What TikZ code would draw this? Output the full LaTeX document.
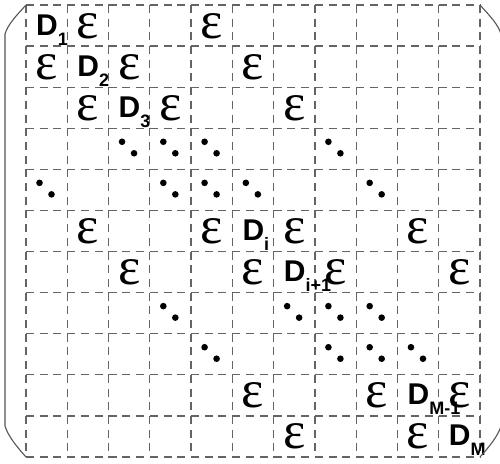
\documentclass[tikz,border=0pt]{standalone}
\usepackage{fontspec}
\newfontfamily\dfont{Liberation Sans}
\newfontfamily\efont{Liberation Serif}
\definecolor{gridgray}{RGB}{100,100,100}
\definecolor{brgray}{RGB}{85,85,85}
\newcommand\cellW{41.2727}
\newcommand\cellH{41.0909}
\newcommand\subl[1]{\raisebox{-10pt}{\fontsize{18}{18}\selectfont #1}}
\begin{document}
\begin{tikzpicture}[x=1pt,y=-1pt,
  gridseg/.style={draw=gridgray, line width=1.2pt, dash pattern=on 8pt off 5.7pt},
  epsnode/.style={anchor=base, inner sep=0pt, text height=24pt, text depth=0pt, font=\efont\fontsize{53}{53}\selectfont},
  dnode/.style={anchor=base west, inner sep=0pt, font=\dfont\bfseries\fontsize{30}{30}\selectfont},
  dotnode/.style={circle, fill=black, draw=none, inner sep=0pt, minimum size=6.6pt},
  bracket/.style={draw=brgray, line width=1.1pt}]
\useasboundingbox (0,0) rectangle (500,463);
% grid: each cell edge drawn once, dashes starting at each crossing
\foreach \r in {0,...,11}{
  \foreach \c in {0,...,10}{
    \draw[gridseg] ({26+\c*\cellW},{5+\r*\cellH}) -- ++(\cellW,0);
  }
}
\foreach \c in {0,...,11}{
  \foreach \r in {0,...,10}{
    \draw[gridseg] ({26+\c*\cellW},{5+\r*\cellH}) -- ++(0,\cellH);
  }
}
% epsilons
\foreach \r/\c in {0/1,0/4,1/0,1/2,1/5,2/1,2/3,2/6,5/1,5/4,5/6,5/9,6/2,6/5,6/7,6/10,9/5,9/8,9/10,10/6,10/9}{
  \node[epsnode] (e-\r-\c) at ({26+(\c+0.5)*\cellW},{5+\r*\cellH+33}) {ε};
}
% diagonal D entries
\foreach \r/\s in {0/1,1/2,2/3,5/i,6/i+1,9/M-1,10/M}{
  \node[dnode] (d-\r) at ({26+\r*\cellW+10},{5+\r*\cellH+30}) {D\subl{\s}};
}
% dot pairs
\foreach \r/\c in {3/2,3/3,3/4,3/7,4/0,4/3,4/4,4/5,4/8,7/3,7/6,7/7,7/8,8/4,8/7,8/8,8/9}{
  \node[dotnode] (p-\r-\c-a) at ({26+\c*\cellW+13.5},{5+\r*\cellH+13.5}) {};
  \node[dotnode] (p-\r-\c-b) at ({26+\c*\cellW+25.5},{5+\r*\cellH+25}) {};
}
% brackets
\coordinate (tl) at (26,5);
\coordinate (bl) at (26,457);
\coordinate (tr) at (480,5);
\coordinate (br) at (480,457);
\draw[bracket] (tl) .. controls (17,15) and (8,24) .. (5,34) -- (5,426) .. controls (8,436) and (17,447) .. (bl);
\draw[bracket] (tr) .. controls (489,15) and (498,24) .. (501,34) -- (501,426) .. controls (498,436) and (489,447) .. (br);
\end{tikzpicture}
\end{document}
